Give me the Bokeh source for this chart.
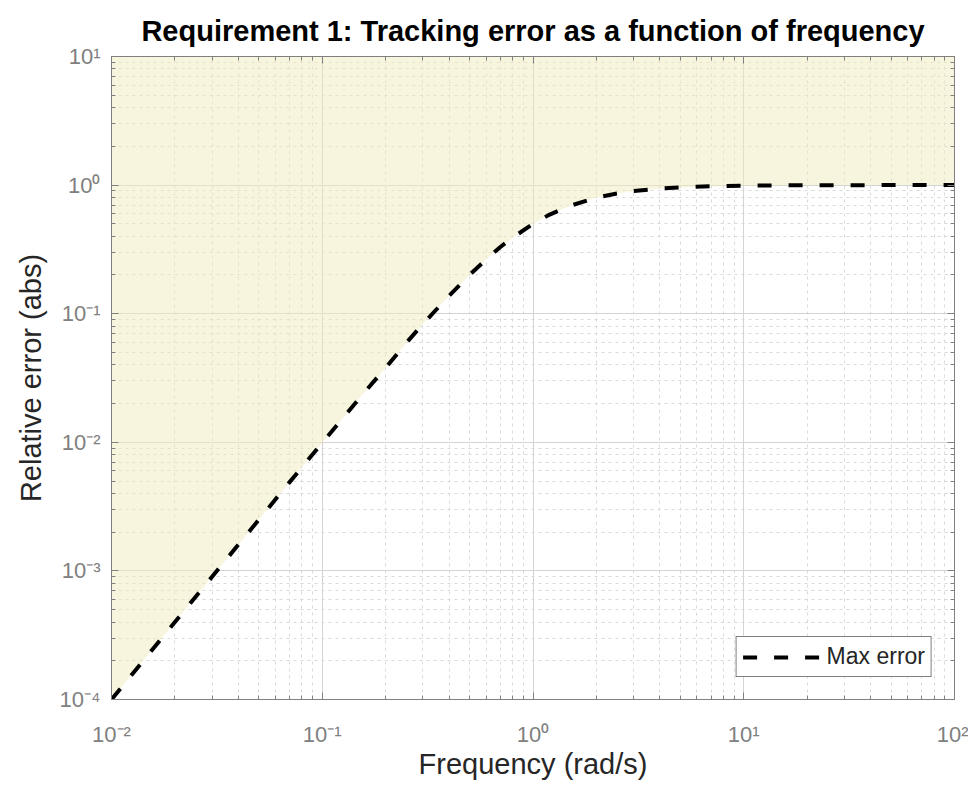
from bokeh.plotting import figure
from bokeh.models import LogAxis, LogTicker, CustomJSTickFormatter, Legend, LegendItem
from bokeh.embed import file_html
from bokeh.resources import INLINE

# Data
freq = [0.01, 0.02, 0.03, 0.05, 0.07, 0.1, 0.15, 0.2, 0.25, 0.3, 0.4, 0.5, 0.6, 0.7,
        0.8, 1.0, 1.2, 1.5, 2.0, 2.5, 3.0, 4.0, 5.0, 7.0, 10.0, 20.0, 50.0, 100.0]
max_err = [1.0e-4, 4.0e-4, 9.0e-4, 2.5e-3, 4.9e-3, 9.9e-3, 0.022, 0.038, 0.059, 0.083,
           0.138, 0.2, 0.265, 0.33, 0.39, 0.5, 0.59, 0.69, 0.8, 0.86, 0.9, 0.94, 0.96,
           0.98, 0.99, 0.998, 1.0, 1.0]
X_RANGE = (1e-2, 1e2)
Y_RANGE = (1e-4, 1e1)
region_top = [Y_RANGE[1]] * len(freq)

title_text = "Requirement 1: Tracking error as a function of frequency"
x_label = "Frequency (rad/s)"
y_label = "Relative error (abs)"
legend_label = "Max error"

FONT = "Liberation Sans"
GREY = "#808080"
DARK = "#262626"

p = figure(width=968, height=783, x_axis_type="log", y_axis_type="log",
           x_range=X_RANGE, y_range=Y_RANGE, output_backend="svg",
           toolbar_location=None, title=title_text,
           min_border_left=111, min_border_right=14, min_border_top=56,
           min_border_bottom=84)

p.title.text_font = FONT
p.title.text_font_size = "29px"
p.title.text_font_style = "bold"
p.title.text_color = "#000000"
p.title.align = "center"
p.title.standoff = 20
p.title.text_line_height = 0.75

sup_js = """
const m = {'-':'\u207b','0':'\u2070','1':'\u00b9','2':'\u00b2','3':'\u00b3','4':'\u2074',
           '5':'\u2075','6':'\u2076','7':'\u2077','8':'\u2078','9':'\u2079'};
const e = Math.round(Math.log10(tick));
let s = '';
for (const c of String(e)) { s += m[c]; }
return '10' + s;
"""
fmt = CustomJSTickFormatter(code=sup_js)
blank = CustomJSTickFormatter(code="return '';")

def style_axis(ax, labels=True):
    ax.ticker = LogTicker(num_minor_ticks=10)
    ax.axis_line_color = GREY
    ax.major_tick_line_color = GREY
    ax.minor_tick_line_color = GREY
    ax.major_tick_in = 7
    ax.major_tick_out = 0
    ax.minor_tick_in = 4
    ax.minor_tick_out = 0
    ax.major_label_text_font = FONT
    ax.major_label_text_color = GREY
    if labels:
        ax.formatter = fmt
        ax.major_label_text_font_size = "22px"
    else:
        ax.formatter = blank
        ax.major_label_text_font_size = "0px"
        ax.major_label_standoff = 0

for ax in p.xaxis + p.yaxis:
    style_axis(ax)
    ax.axis_label_text_font = FONT
    ax.axis_label_text_font_size = "29px"
    ax.axis_label_text_font_style = "normal"
    ax.axis_label_text_color = DARK

p.xaxis.axis_label = x_label
p.yaxis.axis_label = y_label
p.xaxis.major_label_standoff = 22
p.yaxis.major_label_standoff = 11
p.xaxis.axis_label_standoff = -2
p.yaxis.axis_label_standoff = 10

top_ax = LogAxis()
right_ax = LogAxis()
style_axis(top_ax, labels=False)
style_axis(right_ax, labels=False)
p.add_layout(top_ax, "above")
p.add_layout(right_ax, "right")

p.outline_line_color = GREY

for g in (p.xgrid, p.ygrid):
    g.grid_line_color = "#d4d4d4"
    g.grid_line_width = 1
    g.minor_grid_line_color = "#d9d9d9"
    g.minor_grid_line_dash = "3 4"
    g.minor_grid_line_width = 1

p.varea(x=freq, y1=max_err, y2=region_top, fill_color="#efecbc", fill_alpha=0.5)
line = p.line(freq, max_err, line_color="black", line_width=4, line_dash="14 17")

legend = Legend(items=[LegendItem(label=legend_label, renderers=[line])],
                location="bottom_right")
legend.margin = 22
legend.padding = 6
legend.spacing = 0
legend.glyph_width = 80
legend.glyph_height = 20
legend.label_height = 20
legend.label_standoff = 4
legend.label_text_font = FONT
legend.label_text_font_size = "23px"
legend.label_text_color = DARK
legend.border_line_color = "black"
legend.border_line_width = 1.3
legend.background_fill_color = "white"
legend.background_fill_alpha = 1
p.add_layout(legend, "center")

open("out.html", "w").write(file_html(p, INLINE))
